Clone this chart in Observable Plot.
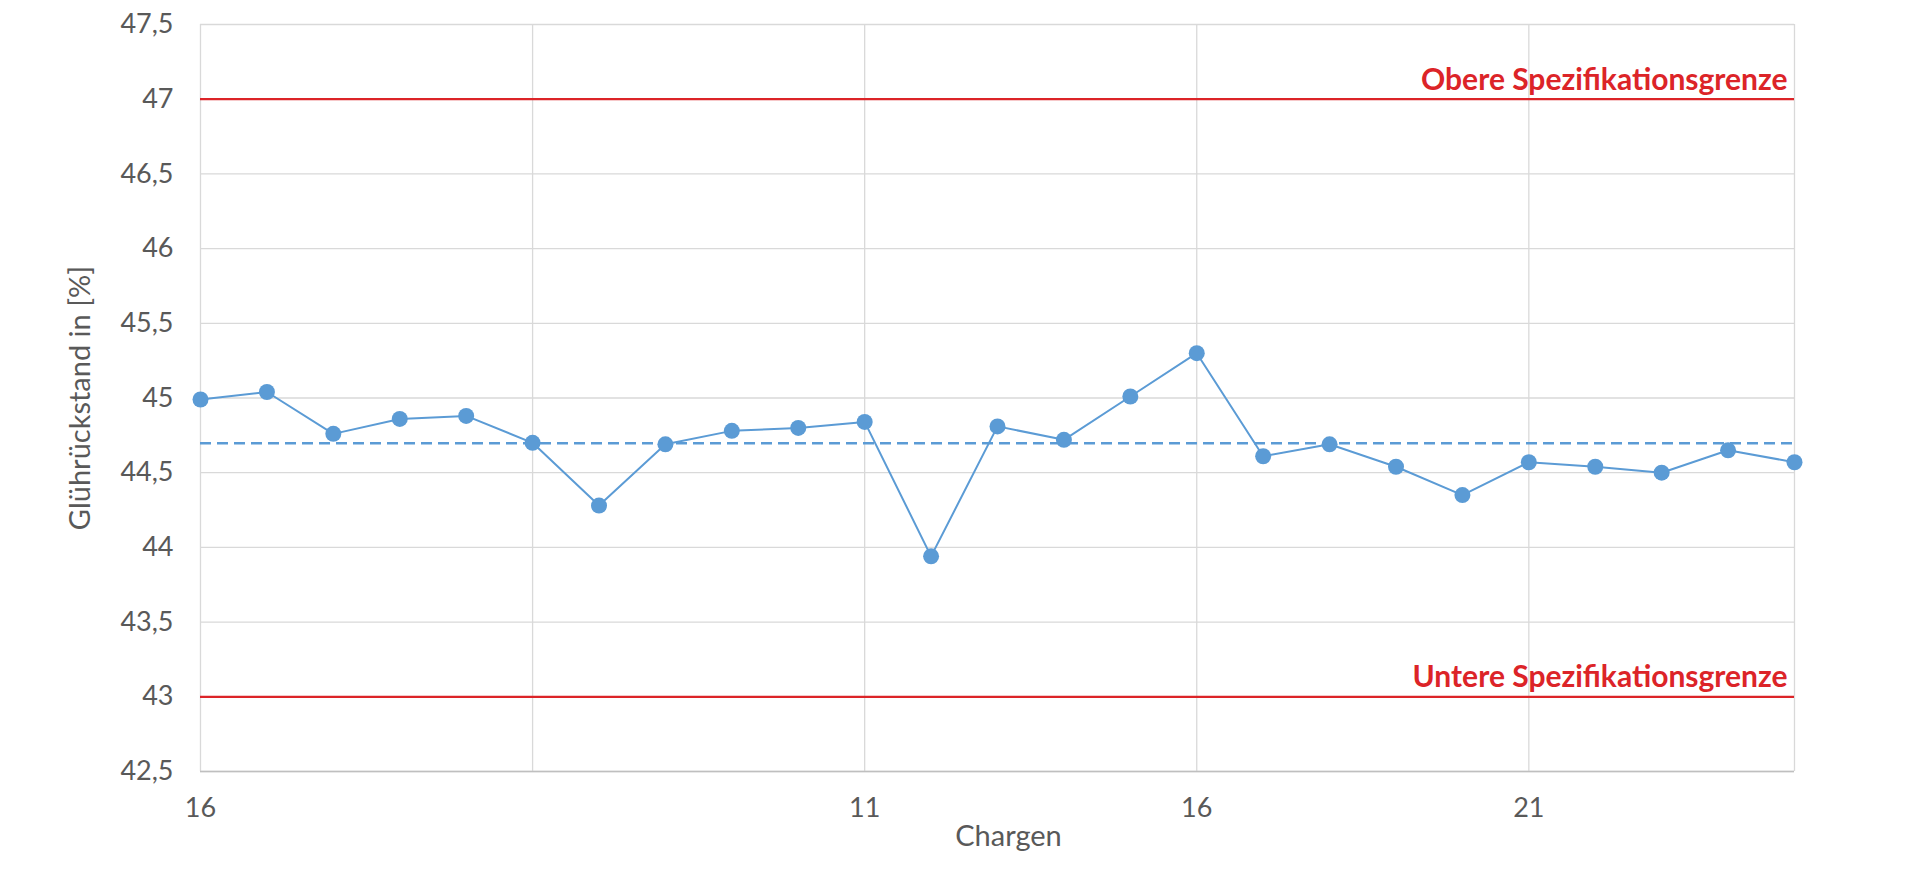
<!DOCTYPE html>
<html>
<head>
<meta charset="utf-8">
<script src="https://cdn.jsdelivr.net/npm/d3@7"></script>
<script src="https://cdn.jsdelivr.net/npm/@observablehq/plot@0.6"></script>
<style>
  html, body { margin: 0; padding: 0; background: #fff; }
  svg { display: block; }
</style>
</head>
<body>
<div id="chart"></div>
<script>
const charge = [1,2,3,4,5,6,7,8,9,10,11,12,13,14,15,16,17,18,19,20,21,22,23,24,25];
const values = [44.99,45.04,44.76,44.86,44.88,44.70,44.28,44.69,44.78,44.80,44.84,43.94,44.81,44.72,45.01,45.30,44.61,44.69,44.54,44.35,44.57,44.54,44.50,44.65,44.57];
const upperSpec = 47;
const lowerSpec = 43;
const upperLabel = "Obere Spezifikationsgrenze";
const lowerLabel = "Untere Spezifikationsgrenze";
const yTicks = [42.5,43,43.5,44,44.5,45,45.5,46,46.5,47,47.5];
const xTicks = [1,6,11,16,21];
const xTickLabels = ["16","","11","16","21"];
const xTitle = "Chargen";
const yTitle = "Glührückstand in [%]";

const data = charge.map((c, i) => ({x: c, y: values[i]}));
const mean = d3.mean(values);

const blue = "#5b9bd5";
const red = "#dc2428";
const grid = "#d9d9d9";
const textGray = "#595959";
const font = "Lato, 'Open Sans', sans-serif";

const chart = Plot.plot({
  width: 1920,
  height: 879,
  marginLeft: 200,
  marginRight: 126,
  marginTop: 24,
  marginBottom: 108,
  style: {fontFamily: font, fontSize: "27px", color: textGray, background: "#fff"},
  x: {domain: [1, 25], axis: null},
  y: {domain: [42.5, 47.5], axis: null},
  marks: [
    Plot.ruleY(yTicks, {stroke: grid, strokeWidth: 1.3}),
    Plot.ruleX([...xTicks, 25], {stroke: grid, strokeWidth: 1.3}),
    Plot.ruleY([42.5], {stroke: "#bfbfbf", strokeWidth: 1.5}),
    Plot.text(yTicks, {x: 1, y: d => d, text: d => String(d).replace(".", ","),
      textAnchor: "end", lineAnchor: "middle", dx: -27, fontSize: 27, fill: textGray}),
    Plot.text(xTicks, {x: d => d, text: (d, i) => xTickLabels[i],
      frameAnchor: "bottom", textAnchor: "middle", lineAnchor: "middle", dy: 37, fontSize: 27, fill: textGray}),
    Plot.text([xTitle], {frameAnchor: "bottom", textAnchor: "middle", lineAnchor: "middle",
      dy: 65, dx: 11, fontSize: 29, fill: textGray}),
    Plot.text([yTitle], {frameAnchor: "left", textAnchor: "middle", lineAnchor: "middle",
      dx: -120, rotate: -90, fontSize: 29, fill: textGray}),
    Plot.ruleY([upperSpec, lowerSpec], {stroke: red, strokeWidth: 2.2}),
    Plot.text([{x: 25, y: upperSpec, t: upperLabel}, {x: 25, y: lowerSpec, t: lowerLabel}],
      {x: "x", y: "y", text: "t", textAnchor: "end", lineAnchor: "middle", dx: -7, dy: -19, fill: red,
       fontWeight: "bold", fontSize: 30}),
    Plot.ruleY([mean], {stroke: blue, strokeWidth: 2.4, strokeDasharray: "11,6"}),
    Plot.line(data, {x: "x", y: "y", stroke: blue, strokeWidth: 2}),
    Plot.dot(data, {x: "x", y: "y", r: 8, fill: blue, stroke: "none"})
  ]
});
document.getElementById("chart").appendChild(chart);
</script>
</body>
</html>
